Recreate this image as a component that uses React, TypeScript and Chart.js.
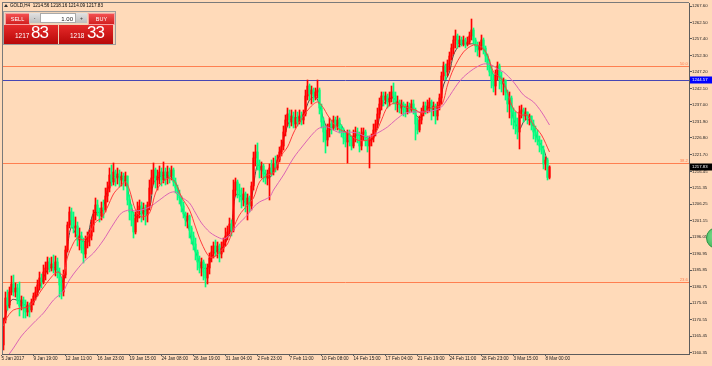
import React, { useEffect, useRef } from 'react';
import { Chart, registerables } from 'chart.js';

Chart.register(...registerables);

// ---------------- data ----------------
const symbolTitle = 'GOLD,H4';
const lastBarOHLC = ['1214.56', '1218.16', '1214.09', '1217.83'];
const lotValue = '1.00';
const sellQuote = ['1217', '83'];
const buyQuote = ['1218', '33'];

const opens = [
  1162.72, 1170.45, 1177.26, 1175.09, 1179.12, 1181.59, 1179.12, 1180.35, 1176.64, 1174.78,
  1176.64, 1174.16, 1172.93, 1175.09, 1173.55, 1176.02, 1177.88, 1179.12, 1181.28, 1183.45,
  1182.21, 1185.30, 1186.54, 1188.40, 1186.54, 1187.78, 1185.92, 1188.40, 1185.30, 1181.28,
  1179.12, 1184.37, 1192.11, 1199.84, 1203.87, 1201.39, 1198.92, 1199.54, 1195.20, 1196.44,
  1192.73, 1190.87, 1194.59, 1195.82, 1196.44, 1199.84, 1202.94, 1206.03, 1203.87, 1202.63,
  1205.10, 1204.49, 1208.82, 1211.29, 1215.31, 1213.15, 1216.24, 1214.39, 1215.62, 1213.77,
  1215.01, 1213.46, 1215.01, 1207.58, 1203.87, 1201.39, 1197.68, 1202.01, 1204.49, 1205.72,
  1203.25, 1205.10, 1202.94, 1206.03, 1211.29, 1214.39, 1216.86, 1213.77, 1215.01, 1216.24,
  1213.77, 1216.24, 1214.39, 1216.24, 1215.01, 1216.86, 1213.15, 1211.29, 1209.44, 1208.20,
  1205.72, 1203.25, 1201.39, 1202.63, 1198.92, 1196.44, 1193.97, 1191.49, 1188.40, 1186.54,
  1188.40, 1185.30, 1183.45, 1186.54, 1189.63, 1191.49, 1193.35, 1191.49, 1193.35, 1190.87,
  1192.73, 1194.59, 1196.44, 1197.68, 1200.15, 1198.30, 1210.67, 1213.15, 1210.67, 1208.82,
  1207.58, 1209.44, 1206.34, 1208.20, 1205.72, 1211.91, 1220.57, 1222.43, 1218.72, 1216.86,
  1218.10, 1215.62, 1214.39, 1215.62, 1217.48, 1216.24, 1218.72, 1217.48, 1219.96, 1222.43,
  1224.29, 1228.62, 1232.33, 1234.19, 1231.71, 1233.57, 1231.09, 1232.95, 1231.71, 1233.57,
  1232.33, 1234.19, 1239.76, 1242.85, 1240.38, 1241.61, 1239.76, 1241.00, 1241.61, 1236.04,
  1231.71, 1228.62, 1226.14, 1229.24, 1231.09, 1229.86, 1232.33, 1230.48, 1232.33, 1229.86,
  1228.62, 1226.76, 1225.53, 1228.00, 1226.14, 1224.29, 1227.38, 1228.62, 1226.76, 1224.29,
  1228.00, 1228.62, 1226.14, 1224.29, 1226.14, 1226.76, 1229.24, 1231.09, 1234.19, 1237.28,
  1239.76, 1238.52, 1239.76, 1237.90, 1239.14, 1241.00, 1239.76, 1237.28, 1237.90, 1236.04,
  1237.28, 1235.43, 1234.81, 1236.66, 1235.43, 1237.28, 1235.43, 1231.09, 1229.24, 1232.33,
  1234.81, 1236.66, 1235.43, 1236.66, 1237.90, 1235.43, 1236.66, 1233.57, 1236.66, 1239.14,
  1245.95, 1249.04, 1247.18, 1249.66, 1252.13, 1254.61, 1257.08, 1258.32, 1255.85, 1257.08,
  1255.85, 1257.08, 1255.85, 1256.47, 1258.32, 1260.18, 1257.08, 1255.23, 1253.99, 1255.23,
  1257.08, 1254.61, 1252.13, 1249.66, 1247.18, 1244.71, 1242.85, 1245.95, 1249.04, 1245.33,
  1243.47, 1244.71, 1241.00, 1237.28, 1239.14, 1234.81, 1232.95, 1230.48, 1228.62, 1234.81,
  1235.43, 1233.57, 1234.81, 1232.95, 1233.57, 1231.09, 1228.62, 1227.38, 1226.14, 1224.29,
  1223.05, 1218.72, 1219.96, 1214.56,
];

const highs = [
  1171.07, 1179.12, 1179.73, 1180.66, 1184.07, 1184.37, 1181.90, 1181.59, 1182.21, 1177.88,
  1177.57, 1176.64, 1176.02, 1175.71, 1176.95, 1178.81, 1180.66, 1182.83, 1185.30, 1184.68,
  1187.47, 1188.40, 1189.94, 1189.63, 1189.94, 1190.56, 1190.25, 1189.63, 1186.54, 1183.45,
  1185.92, 1193.35, 1200.77, 1205.41, 1205.10, 1203.87, 1202.32, 1200.77, 1198.92, 1197.68,
  1195.82, 1196.44, 1197.68, 1198.30, 1201.39, 1204.49, 1208.20, 1207.58, 1205.10, 1206.96,
  1207.58, 1211.29, 1213.15, 1217.48, 1218.41, 1219.03, 1216.86, 1217.48, 1216.86, 1216.24,
  1215.93, 1216.24, 1215.01, 1209.13, 1206.03, 1203.87, 1203.87, 1206.96, 1207.58, 1206.96,
  1206.65, 1206.03, 1206.96, 1213.77, 1216.86, 1219.03, 1217.48, 1216.86, 1218.10, 1217.48,
  1219.34, 1217.48, 1218.10, 1217.48, 1218.10, 1217.48, 1214.39, 1212.22, 1210.67, 1208.82,
  1206.96, 1203.87, 1203.56, 1202.94, 1199.54, 1197.68, 1195.82, 1192.11, 1190.25, 1189.63,
  1189.02, 1187.78, 1187.78, 1191.18, 1193.35, 1194.59, 1195.20, 1194.59, 1193.97, 1194.59,
  1195.82, 1198.92, 1199.54, 1202.01, 1201.39, 1213.77, 1214.39, 1213.77, 1212.53, 1211.29,
  1211.29, 1210.06, 1209.44, 1208.82, 1213.15, 1222.43, 1224.60, 1225.22, 1219.96, 1219.34,
  1218.72, 1216.86, 1216.86, 1218.72, 1219.96, 1220.57, 1221.19, 1221.50, 1223.98, 1226.14,
  1230.48, 1233.88, 1236.04, 1235.43, 1235.43, 1234.81, 1235.43, 1234.81, 1235.43, 1234.81,
  1235.43, 1241.61, 1244.71, 1243.47, 1242.85, 1242.23, 1242.23, 1244.71, 1242.23, 1237.28,
  1232.95, 1230.48, 1231.09, 1232.95, 1232.33, 1233.57, 1233.26, 1233.57, 1232.95, 1230.78,
  1229.86, 1228.62, 1229.24, 1229.24, 1227.38, 1229.24, 1230.17, 1229.86, 1228.62, 1229.86,
  1229.86, 1229.24, 1227.38, 1227.38, 1228.00, 1231.09, 1232.33, 1236.04, 1239.14, 1241.00,
  1241.00, 1241.00, 1240.38, 1241.00, 1242.85, 1243.78, 1241.00, 1239.76, 1238.52, 1238.52,
  1237.90, 1237.28, 1237.90, 1237.59, 1238.52, 1238.52, 1236.04, 1232.95, 1233.57, 1236.04,
  1237.90, 1237.90, 1238.52, 1239.14, 1238.52, 1237.90, 1237.28, 1237.90, 1240.38, 1247.18,
  1250.28, 1249.66, 1250.90, 1253.37, 1255.85, 1258.32, 1260.18, 1258.94, 1258.32, 1258.01,
  1258.32, 1257.70, 1258.01, 1259.56, 1263.58, 1260.80, 1257.70, 1256.47, 1256.47, 1258.63,
  1257.70, 1255.23, 1252.75, 1250.90, 1249.04, 1246.56, 1247.80, 1250.28, 1249.66, 1247.18,
  1245.33, 1244.71, 1241.61, 1241.00, 1239.76, 1236.04, 1234.81, 1232.95, 1236.66, 1236.97,
  1236.04, 1236.04, 1234.81, 1234.19, 1233.57, 1232.33, 1230.48, 1229.24, 1227.38, 1226.14,
  1224.29, 1220.88, 1220.57, 1218.16,
];

const lows = [
  1161.17, 1169.52, 1173.55, 1174.16, 1178.19, 1177.88, 1177.57, 1175.40, 1171.69, 1173.55,
  1171.07, 1171.07, 1171.69, 1171.38, 1172.93, 1175.09, 1176.64, 1177.88, 1179.73, 1180.35,
  1181.59, 1182.83, 1184.68, 1185.30, 1185.61, 1184.99, 1184.07, 1183.45, 1177.57, 1176.95,
  1177.88, 1183.45, 1191.49, 1198.92, 1198.92, 1197.37, 1196.13, 1193.35, 1192.11, 1191.18,
  1188.09, 1189.63, 1192.73, 1193.35, 1195.20, 1197.68, 1201.39, 1202.63, 1200.77, 1201.39,
  1202.01, 1203.87, 1206.96, 1210.06, 1211.91, 1212.22, 1211.91, 1212.53, 1211.60, 1211.91,
  1210.67, 1211.91, 1206.03, 1201.39, 1199.54, 1195.82, 1197.06, 1200.77, 1202.01, 1200.77,
  1201.39, 1199.84, 1200.77, 1204.49, 1209.44, 1212.53, 1211.29, 1210.67, 1212.53, 1211.91,
  1212.84, 1212.22, 1212.53, 1212.84, 1213.77, 1211.91, 1209.75, 1207.58, 1206.34, 1203.87,
  1202.01, 1199.54, 1198.92, 1195.82, 1193.97, 1192.11, 1189.02, 1185.92, 1184.99, 1184.07,
  1182.83, 1180.66, 1181.59, 1184.68, 1188.40, 1189.63, 1190.25, 1189.63, 1188.40, 1189.63,
  1191.49, 1193.35, 1195.20, 1196.44, 1196.44, 1197.68, 1208.82, 1208.20, 1206.96, 1205.10,
  1205.72, 1203.87, 1201.39, 1203.87, 1204.49, 1210.67, 1218.10, 1216.86, 1214.39, 1214.39,
  1213.15, 1212.53, 1212.22, 1207.58, 1215.01, 1215.31, 1216.24, 1216.86, 1219.34, 1221.19,
  1223.05, 1227.38, 1230.48, 1229.86, 1230.48, 1229.86, 1229.86, 1230.48, 1231.09, 1230.78,
  1231.09, 1233.57, 1238.52, 1238.52, 1237.28, 1237.90, 1238.52, 1239.14, 1234.19, 1229.86,
  1225.53, 1222.12, 1224.29, 1227.07, 1228.00, 1229.24, 1229.24, 1229.24, 1228.31, 1227.07,
  1224.91, 1223.98, 1219.03, 1224.29, 1223.05, 1223.67, 1225.53, 1225.22, 1222.43, 1223.05,
  1226.14, 1224.29, 1222.43, 1217.48, 1224.29, 1225.53, 1227.38, 1229.86, 1232.95, 1235.43,
  1236.66, 1237.28, 1236.04, 1236.66, 1237.90, 1237.28, 1235.43, 1234.81, 1234.50, 1234.19,
  1233.57, 1233.26, 1234.19, 1234.50, 1234.81, 1234.19, 1226.14, 1228.00, 1228.62, 1231.09,
  1233.57, 1234.19, 1234.50, 1234.81, 1232.33, 1233.57, 1231.09, 1232.33, 1235.43, 1237.28,
  1244.71, 1244.71, 1245.95, 1247.80, 1250.90, 1252.75, 1254.61, 1254.61, 1254.92, 1255.23,
  1255.23, 1254.61, 1255.23, 1255.85, 1257.08, 1255.85, 1253.37, 1252.13, 1251.82, 1253.99,
  1252.75, 1250.28, 1247.80, 1245.95, 1242.23, 1241.00, 1240.07, 1244.71, 1241.92, 1241.00,
  1240.07, 1238.52, 1234.81, 1232.95, 1230.78, 1229.55, 1228.00, 1226.45, 1223.36, 1232.95,
  1231.71, 1232.33, 1231.09, 1230.78, 1229.24, 1226.45, 1225.53, 1224.60, 1222.43, 1221.81,
  1217.17, 1216.86, 1213.77, 1214.09,
];

const closes = [
  1170.45, 1177.26, 1175.09, 1179.12, 1181.59, 1179.12, 1180.35, 1176.64, 1174.78, 1176.64,
  1174.16, 1172.93, 1175.09, 1173.55, 1176.02, 1177.88, 1179.12, 1181.28, 1183.45, 1182.21,
  1185.30, 1186.54, 1188.40, 1186.54, 1187.78, 1185.92, 1188.40, 1185.30, 1181.28, 1179.12,
  1184.37, 1192.11, 1199.84, 1203.87, 1201.39, 1198.92, 1199.54, 1195.20, 1196.44, 1192.73,
  1190.87, 1194.59, 1195.82, 1196.44, 1199.84, 1202.94, 1206.03, 1203.87, 1202.63, 1205.10,
  1204.49, 1208.82, 1211.29, 1215.31, 1213.15, 1216.24, 1214.39, 1215.62, 1213.77, 1215.01,
  1213.46, 1215.01, 1207.58, 1203.87, 1201.39, 1197.68, 1202.01, 1204.49, 1205.72, 1203.25,
  1205.10, 1202.94, 1206.03, 1211.29, 1214.39, 1216.86, 1213.77, 1215.01, 1216.24, 1213.77,
  1216.24, 1214.39, 1216.24, 1215.01, 1216.86, 1213.15, 1211.29, 1209.44, 1208.20, 1205.72,
  1203.25, 1201.39, 1202.63, 1198.92, 1196.44, 1193.97, 1191.49, 1188.40, 1186.54, 1188.40,
  1185.30, 1183.45, 1186.54, 1189.63, 1191.49, 1193.35, 1191.49, 1193.35, 1190.87, 1192.73,
  1194.59, 1196.44, 1197.68, 1200.15, 1198.30, 1210.67, 1213.15, 1210.67, 1208.82, 1207.58,
  1209.44, 1206.34, 1208.20, 1205.72, 1211.91, 1220.57, 1222.43, 1218.72, 1216.86, 1218.10,
  1215.62, 1214.39, 1215.62, 1217.48, 1216.24, 1218.72, 1217.48, 1219.96, 1222.43, 1224.29,
  1228.62, 1232.33, 1234.19, 1231.71, 1233.57, 1231.09, 1232.95, 1231.71, 1233.57, 1232.33,
  1234.19, 1239.76, 1242.85, 1240.38, 1241.61, 1239.76, 1241.00, 1241.61, 1236.04, 1231.71,
  1228.62, 1226.14, 1229.24, 1231.09, 1229.86, 1232.33, 1230.48, 1232.33, 1229.86, 1228.62,
  1226.76, 1225.53, 1228.00, 1226.14, 1224.29, 1227.38, 1228.62, 1226.76, 1224.29, 1228.00,
  1228.62, 1226.14, 1224.29, 1226.14, 1226.76, 1229.24, 1231.09, 1234.19, 1237.28, 1239.76,
  1238.52, 1239.76, 1237.90, 1239.14, 1241.00, 1239.76, 1237.28, 1237.90, 1236.04, 1237.28,
  1235.43, 1234.81, 1236.66, 1235.43, 1237.28, 1235.43, 1231.09, 1229.24, 1232.33, 1234.81,
  1236.66, 1235.43, 1236.66, 1237.90, 1235.43, 1236.66, 1233.57, 1236.66, 1239.14, 1245.95,
  1249.04, 1247.18, 1249.66, 1252.13, 1254.61, 1257.08, 1258.32, 1255.85, 1257.08, 1255.85,
  1257.08, 1255.85, 1256.47, 1258.32, 1260.18, 1257.08, 1255.23, 1253.99, 1255.23, 1257.08,
  1254.61, 1252.13, 1249.66, 1247.18, 1244.71, 1242.85, 1245.95, 1249.04, 1245.33, 1243.47,
  1244.71, 1241.00, 1237.28, 1239.14, 1234.81, 1232.95, 1230.48, 1228.62, 1234.81, 1235.43,
  1233.57, 1234.81, 1232.95, 1233.57, 1231.09, 1228.62, 1227.38, 1226.14, 1224.29, 1223.05,
  1218.72, 1219.96, 1214.56, 1217.83,
];

// time axis: one label every 16 bars
const xTickBars = [0, 16, 32, 48, 64, 80, 96, 112, 128, 144, 160, 176, 192, 208, 224, 240, 256, 272];
const xTickLabels = [
  '5 Jan 2017', '9 Jan 19:00', '12 Jan 11:00', '16 Jan 23:00', '19 Jan 15:00', '24 Jan 08:00',
  '26 Jan 19:00', '31 Jan 04:00', '2 Feb 23:00', '7 Feb 11:00', '10 Feb 08:00', '14 Feb 15:00',
  '17 Feb 04:00', '21 Feb 19:00', '24 Feb 11:00', '28 Feb 23:00', '3 Mar 15:00', '8 Mar 00:00',
];

// price axis
const yTickValues = [
  1160.35, 1165.45, 1170.55, 1175.65, 1180.75, 1185.85, 1190.95, 1196.05, 1201.15, 1206.25,
  1211.35, 1216.45, 1221.70, 1226.80, 1231.90, 1237.00, 1242.10, 1247.20, 1252.30, 1257.40,
  1262.50, 1267.60,
];

// moving averages (at the listed bars)
const fastMaBars = [0, 4, 9, 12, 15, 19, 22, 25, 28, 30, 32, 34, 37, 40, 42, 45, 49, 52, 55, 58, 61, 64, 66, 69, 73, 75, 78, 81, 84, 87, 89, 92, 94, 97, 99, 102, 104, 107, 109, 112, 114, 116, 118, 122, 124, 127, 130, 133, 136, 138, 141, 144, 148, 150, 153, 156, 158, 161, 163, 166, 168, 171, 174, 177, 181, 184, 187, 189, 192, 195, 197, 201, 204, 207, 209, 212, 216, 218, 220, 223, 225, 228, 230, 233, 235, 238, 240, 243, 245, 248, 250, 253, 255, 258, 260, 262, 265, 267, 270, 272];
const fastMaValues = [1169.83, 1176.64, 1176.02, 1174.47, 1175.71, 1181.90, 1185.92, 1186.85, 1184.99, 1181.90, 1193.04, 1199.23, 1196.13, 1194.59, 1196.13, 1203.56, 1203.87, 1210.67, 1214.70, 1214.70, 1213.15, 1205.41, 1202.32, 1203.56, 1205.10, 1212.84, 1214.70, 1215.31, 1214.70, 1211.60, 1205.41, 1200.46, 1195.20, 1189.94, 1186.85, 1186.54, 1189.94, 1192.11, 1192.42, 1195.82, 1199.84, 1209.13, 1209.13, 1206.03, 1208.20, 1218.41, 1216.24, 1214.39, 1218.41, 1221.50, 1228.62, 1232.95, 1232.95, 1233.88, 1238.52, 1239.45, 1236.97, 1230.78, 1229.86, 1230.78, 1231.40, 1228.62, 1227.07, 1227.69, 1227.07, 1226.14, 1230.17, 1236.35, 1238.52, 1239.14, 1237.59, 1236.04, 1236.35, 1233.26, 1233.26, 1236.04, 1236.35, 1236.97, 1243.16, 1247.18, 1252.44, 1255.54, 1255.85, 1255.85, 1255.85, 1254.30, 1254.30, 1250.28, 1246.25, 1246.25, 1243.47, 1238.83, 1232.64, 1229.55, 1231.71, 1232.64, 1230.17, 1226.45, 1223.36, 1219.34];

const midMaBars = [0, 1, 5, 12, 15, 19, 24, 27, 30, 32, 35, 37, 40, 43, 46, 49, 52, 55, 58, 61, 63, 66, 69, 73, 76, 79, 83, 86, 89, 93, 96, 99, 103, 106, 109, 112, 115, 118, 122, 125, 128, 132, 135, 138, 142, 145, 148, 153, 157, 160, 162, 167, 172, 177, 182, 186, 189, 192, 196, 201, 206, 209, 214, 219, 222, 225, 230, 235, 239, 242, 245, 249, 252, 255, 259, 262, 265, 269, 273];
const midMaValues = [1168.60, 1170.45, 1173.55, 1174.47, 1176.02, 1179.73, 1183.76, 1185.30, 1184.37, 1189.94, 1194.28, 1195.82, 1195.20, 1197.37, 1200.77, 1202.01, 1205.41, 1209.44, 1211.60, 1213.15, 1210.67, 1204.49, 1202.32, 1203.56, 1209.75, 1212.84, 1214.39, 1212.84, 1208.51, 1204.49, 1199.23, 1194.28, 1189.94, 1190.25, 1192.11, 1193.97, 1198.92, 1202.94, 1206.03, 1208.20, 1213.15, 1215.31, 1215.93, 1220.57, 1223.98, 1228.31, 1231.71, 1236.04, 1237.90, 1236.04, 1233.88, 1229.86, 1228.31, 1226.14, 1226.14, 1228.31, 1232.33, 1236.35, 1237.59, 1236.35, 1235.43, 1234.50, 1236.04, 1236.97, 1243.16, 1248.11, 1253.37, 1255.54, 1254.92, 1252.44, 1247.18, 1245.02, 1241.00, 1235.74, 1233.88, 1233.88, 1230.78, 1227.69, 1222.43];

const slowMaBars = [0, 5, 9, 15, 20, 25, 30, 32, 35, 40, 45, 50, 55, 59, 63, 66, 69, 73, 78, 83, 86, 89, 93, 96, 99, 103, 106, 110, 113, 117, 122, 125, 128, 133, 135, 140, 145, 150, 155, 158, 162, 167, 172, 177, 182, 187, 192, 196, 201, 206, 211, 216, 219, 222, 227, 230, 235, 240, 244, 247, 250, 255, 260, 265, 269, 273];
const slowMaValues = [1157.46, 1161.79, 1165.50, 1169.52, 1172.62, 1176.64, 1179.43, 1181.90, 1184.68, 1188.40, 1191.18, 1195.20, 1200.15, 1203.56, 1204.49, 1204.18, 1204.49, 1205.41, 1207.58, 1209.75, 1210.06, 1208.51, 1206.65, 1203.56, 1200.46, 1197.68, 1196.44, 1195.51, 1196.75, 1199.84, 1202.94, 1205.41, 1206.96, 1208.51, 1210.67, 1215.31, 1220.57, 1224.60, 1228.31, 1229.86, 1230.17, 1228.62, 1228.62, 1228.31, 1227.07, 1228.31, 1230.17, 1232.33, 1234.50, 1234.81, 1234.81, 1235.43, 1236.35, 1238.83, 1243.47, 1245.64, 1248.11, 1249.66, 1249.35, 1248.11, 1247.18, 1244.09, 1240.07, 1237.90, 1234.81, 1230.78];

// horizontal objects
const fiboLevelLabels = ['23.6', '38.2', '50.0'];
const fiboLevelPrices = [1182.12, 1218.93, 1248.76];
const markerLinePrice = 1244.57;
const bidPrice = 1217.83;

// ---------------- styling ----------------
const W = 712;
const H = 366;
const BG = '#FFDAB9';
const BULL = '#FF0000';
const BEAR = '#00FF7F';
const AXIS = '#5c5c5c';
const TEXT = '#222222';
const FONT = '"Liberation Sans", Arial, sans-serif';
const FIBO = '#FF7F50';

export default function App() {
  const canvasRef = useRef<HTMLCanvasElement | null>(null);

  useEffect(() => {
    const canvas = canvasRef.current;
    if (!canvas) return;

    const barNo = (i: number) => i + 1;
    const colors = opens.map((o, i) => (closes[i] >= o ? BULL : BEAR));
    const maPoints = (bars: number[], vals: number[]) => bars.map((b, k) => ({ x: barNo(b), y: vals[k] }));

    const bgPlugin = {
      id: 'bg',
      beforeDraw(chart: any) {
        const c = chart.ctx;
        c.save();
        c.fillStyle = BG;
        c.fillRect(0, 0, chart.width, chart.height);
        c.restore();
      },
    };

    const levelsPlugin = {
      id: 'levels',
      beforeDatasetsDraw(chart: any) {
        const { ctx, chartArea: a, scales } = chart;
        const y = scales.y;
        ctx.save();
        ctx.lineWidth = 1;
        ctx.font = `4.3px ${FONT}`;
        ctx.textAlign = 'right';
        ctx.textBaseline = 'bottom';
        fiboLevelPrices.forEach((p, k) => {
          const py = Math.floor(y.getPixelForValue(p)) + 0.5;
          ctx.strokeStyle = FIBO;
          ctx.beginPath();
          ctx.moveTo(a.left, py);
          ctx.lineTo(a.right, py);
          ctx.stroke();
          ctx.fillStyle = FIBO;
          ctx.fillText(fiboLevelLabels[k], a.right - 1, py - 0.5);
        });
        const by = Math.floor(y.getPixelForValue(markerLinePrice)) + 0.5;
        ctx.strokeStyle = '#4646B4';
        ctx.beginPath();
        ctx.moveTo(a.left, by);
        ctx.lineTo(a.right, by);
        ctx.stroke();
        ctx.restore();
      },
    };

    const overlayPlugin = {
      id: 'overlay',
      afterDraw(chart: any) {
        const { ctx, chartArea: a, scales } = chart;
        const y = scales.y;
        ctx.save();
        ctx.fillStyle = '#7a7a7a';
        ctx.fillRect(a.left, a.top - 1, a.right - a.left, 1);
        ctx.fillRect(a.left, a.top - 1, 1, a.bottom - a.top + 1);
        const box = (price: number, bg: string) => {
          const py = y.getPixelForValue(price);
          const top = Math.round(py) - 3.5;
          ctx.fillStyle = bg;
          ctx.fillRect(a.right + 1, top, W - a.right - 1, 7);
          ctx.fillStyle = '#ffffff';
          ctx.font = `4.3px ${FONT}`;
          ctx.textAlign = 'left';
          ctx.textBaseline = 'middle';
          ctx.fillText(price.toFixed(2), a.right + 3, top + 3.6);
        };
        box(markerLinePrice, '#0000FF');
        box(bidPrice, '#000000');
        ctx.restore();
      },
    };

    const chart = new Chart(canvas, {
      type: 'bar',
      data: {
        datasets: [
          {
            type: 'line',
            label: 'MA medium',
            data: maPoints(midMaBars, midMaValues),
            borderColor: '#FF3C3C',
            borderWidth: 1,
            pointRadius: 0,
            tension: 0.3,
            order: 1,
          },
          {
            type: 'line',
            label: 'MA slow',
            data: maPoints(slowMaBars, slowMaValues),
            borderColor: '#DC64B4',
            borderWidth: 1,
            pointRadius: 0,
            tension: 0.3,
            order: 2,
          },
          {
            type: 'bar',
            label: 'body',
            data: opens.map((o, i) => ({ x: barNo(i), y: [o, closes[i]] })),
            backgroundColor: colors,
            barThickness: 1.5,
            grouped: false,
            order: 4,
          },
          {
            type: 'bar',
            label: 'range',
            data: lows.map((l, i) => ({ x: barNo(i), y: [l, highs[i]] })),
            backgroundColor: colors,
            barThickness: 1,
            grouped: false,
            order: 5,
          },
          {
            type: 'line',
            label: 'MA fast',
            data: maPoints(fastMaBars, fastMaValues),
            borderColor: '#484848',
            borderWidth: 1,
            pointRadius: 0,
            tension: 0.3,
            order: 6,
          },
        ],
      } as any,
      options: {
        animation: false,
        responsive: false,
        maintainAspectRatio: false,
        devicePixelRatio: 1,
        events: [],
        layout: { padding: { left: 2, top: 3, right: 0, bottom: 0 } },
        plugins: { legend: { display: false }, tooltip: { enabled: false } },
        scales: {
          x: {
            type: 'linear',
            position: 'bottom',
            min: 0.25,
            max: 343.75,
            offset: false,
            bounds: 'data',
            afterBuildTicks: (s: any) => {
              s.ticks = xTickBars.map((v) => ({ value: v }));
            },
            afterFit: (s: any) => {
              s.height = H - 354;
            },
            ticks: {
              autoSkip: false,
              maxRotation: 0,
              minRotation: 0,
              align: 'start',
              padding: 0,
              color: TEXT,
              font: { family: FONT, size: 4.6 },
              callback: (v: any) => {
                const k = xTickBars.indexOf(Number(v));
                return k >= 0 ? xTickLabels[k] : '';
              },
            },
            grid: { drawOnChartArea: false, drawTicks: true, tickLength: 2, color: AXIS, offset: false },
            border: { display: true, color: AXIS },
          },
          y: {
            type: 'linear',
            position: 'right',
            min: 1159.93,
            max: 1268.53,
            beginAtZero: false,
            afterBuildTicks: (s: any) => {
              s.ticks = yTickValues.map((v) => ({ value: v }));
            },
            afterFit: (s: any) => {
              s.width = W - 689;
            },
            ticks: {
              padding: 0,
              color: TEXT,
              font: { family: FONT, size: 4.3 },
              callback: (v: any) => Number(v).toFixed(2),
            },
            grid: { drawOnChartArea: false, drawTicks: true, tickLength: 3, color: AXIS },
            border: { display: true, color: AXIS },
          },
        },
      } as any,
      plugins: [bgPlugin, levelsPlugin, overlayPlugin],
    });

    return () => chart.destroy();
  }, []);

  const abs = (s: React.CSSProperties): React.CSSProperties => ({ position: 'absolute', ...s });
  const btnRed = 'linear-gradient(#f25050, #d22020)';
  const bigRed = 'linear-gradient(#e62a2a, #b80808)';
  const btnGray = 'linear-gradient(#e2e2e2, #bdbdbd)';

  return (
    <div style={{ position: 'fixed', left: 0, top: 0, width: W, height: H, overflow: 'hidden', background: BG, fontFamily: FONT }}>
      <canvas ref={canvasRef} width={W} height={H} style={{ position: 'absolute', left: 0, top: 0, width: W, height: H }} />

      {/* chart header */}
      <div style={abs({ left: 4, top: 3.5, width: 0, height: 0, borderLeft: '2px solid transparent', borderRight: '2px solid transparent', borderBottom: '3px solid #333' })} />
      <div style={abs({ left: 10, top: 2.5, fontSize: 4.6, lineHeight: '6px', color: '#000', whiteSpace: 'pre' })}>
        {`${symbolTitle}  ${lastBarOHLC.join(' ')}`}
      </div>

      {/* one-click trading panel */}
      <div style={abs({ left: 3, top: 11, width: 111, height: 32, border: '1px solid #9c9c9c', background: 'rgba(210,200,190,0.35)' })} />
      <div style={abs({ left: 5, top: 13, width: 23, height: 10, background: btnRed, border: '0.5px solid #f7a0a0', color: '#fff', fontSize: 5.5, lineHeight: '10px', textAlign: 'center' })}>SELL</div>
      <div style={abs({ left: 29, top: 13, width: 11, height: 10, background: btnGray, color: '#333', fontSize: 5, lineHeight: '10px', textAlign: 'center' })}>-</div>
      <div style={abs({ left: 40, top: 13, width: 36, height: 10, background: '#fff', boxSizing: 'border-box', border: '0.5px solid #aaa', color: '#222', fontSize: 6, lineHeight: '10px', textAlign: 'right', paddingRight: 2 })}>{lotValue}</div>
      <div style={abs({ left: 76, top: 13, width: 11, height: 10, background: btnGray, color: '#333', fontSize: 5, lineHeight: '10px', textAlign: 'center' })}>+</div>
      <div style={abs({ left: 88, top: 13, width: 25, height: 10, background: btnRed, border: '0.5px solid #f7a0a0', color: '#fff', fontSize: 5.5, lineHeight: '10px', textAlign: 'center' })}>BUY</div>

      <div style={abs({ left: 4, top: 25, width: 54, height: 18.5, background: bigRed })} />
      <div style={abs({ left: 15, top: 32.5, color: '#fff', fontSize: 6.5, lineHeight: 1 })}>{sellQuote[0]}</div>
      <div style={abs({ left: 31, top: 24.2, color: '#fff', fontSize: 17, lineHeight: 1, letterSpacing: -1 })}>{sellQuote[1]}</div>

      <div style={abs({ left: 59, top: 25, width: 54, height: 18.5, background: bigRed })} />
      <div style={abs({ left: 70, top: 32.5, color: '#fff', fontSize: 6.5, lineHeight: 1 })}>{buyQuote[0]}</div>
      <div style={abs({ left: 87, top: 24.2, color: '#fff', fontSize: 17, lineHeight: 1, letterSpacing: -1 })}>{buyQuote[1]}</div>

      {/* trade icon at the right edge */}
      <div style={abs({ left: 706, top: 227, width: 20, height: 20, borderRadius: '50%', background: 'radial-gradient(circle at 40% 40%, #7fe08f, #2fa84c)', border: '1px solid #2a9444' })} />
    </div>
  );
}
